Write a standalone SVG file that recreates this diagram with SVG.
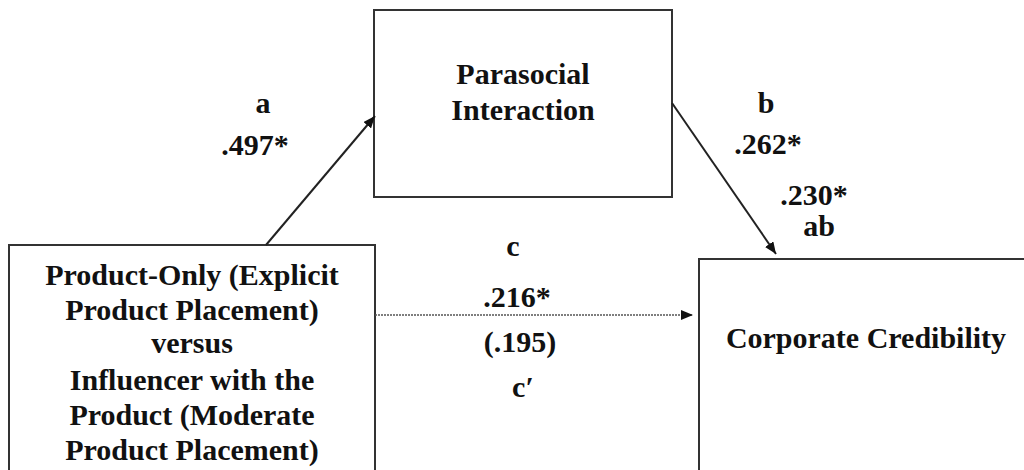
<svg xmlns="http://www.w3.org/2000/svg" width="1024" height="470" viewBox="0 0 1024 470">
<style>
.box{fill:#fff;stroke:#333;stroke-width:2}
.t{font-family:"Liberation Serif","Times New Roman",serif;font-weight:bold;font-size:30px;fill:#111;text-anchor:middle}
.conn{stroke:#222;stroke-width:2;fill:none}
.dot{stroke:#555;stroke-width:1.5;stroke-dasharray:2 1;fill:none}
</style>
<defs>
<marker id="ah" viewBox="0 0 12 10" refX="12" refY="5" markerWidth="12" markerHeight="10" markerUnits="userSpaceOnUse" orient="auto">
<path d="M0,0 L12,5 L0,10 Z" fill="#111"/>
</marker>
</defs>
<rect width="1024" height="470" fill="#fff"/>
<g id="node-x">
<rect class="box" x="9" y="245" width="366" height="240"/>
<text class="t" x="192" y="285">Product-Only (Explicit</text>
<text class="t" x="192" y="320">Product Placement)</text>
<text class="t" x="192" y="353">versus</text>
<text class="t" x="192" y="390">Influencer with the</text>
<text class="t" x="192" y="425">Product (Moderate</text>
<text class="t" x="192" y="460">Product Placement)</text>
</g>
<g id="node-m">
<rect class="box" x="374" y="10" width="298" height="187"/>
<text class="t" x="523" y="84">Parasocial</text>
<text class="t" x="523" y="120">Interaction</text>
</g>
<g id="node-y">
<rect class="box" x="699" y="259" width="340" height="230"/>
<text class="t" x="866" y="348">Corporate Credibility</text>
</g>
<g id="connectors">
<line class="conn" x1="266" y1="245" x2="375" y2="116" marker-end="url(#ah)"/>
<line class="conn" x1="672" y1="103" x2="776" y2="254" marker-end="url(#ah)"/>
<line class="dot" x1="375" y1="315" x2="693" y2="315" marker-end="url(#ah)"/>
</g>
<g id="labels">
<text class="t" x="263" y="113">a</text>
<text class="t" x="255" y="155">.497*</text>
<text class="t" x="766" y="113">b</text>
<text class="t" x="768" y="154">.262*</text>
<text class="t" x="814" y="205">.230*</text>
<text class="t" x="819" y="236">ab</text>
<text class="t" x="513" y="256">c</text>
<text class="t" x="517" y="307">.216*</text>
<text class="t" x="520" y="352">(.195)</text>
<text class="t" x="523" y="397">c′</text>
</g>
</svg>
